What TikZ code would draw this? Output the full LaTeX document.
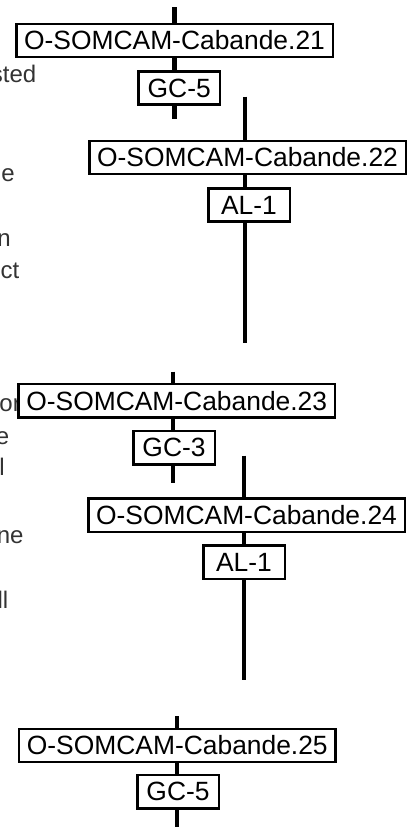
\documentclass[tikz,border=0pt]{standalone}
\usepackage{fontspec}
\setmainfont{Liberation Sans}
\definecolor{sidetext}{HTML}{333333}
\tikzset{
  track/.style={line width=4.2pt},
  segbox/.style={draw, line width=2.5pt, fill=white, inner sep=0pt,
    minimum width=316.5pt, minimum height=33.2pt,
    font=\fontsize{26.4}{30}\selectfont},
  codebox/.style={segbox, minimum width=81.5pt},
  margintext/.style={anchor=base east, inner sep=0pt, text=sidetext,
    font=\fontsize{24}{28}\selectfont},
}
\begin{document}
\begin{tikzpicture}[x=1pt, y=-1pt]
  \useasboundingbox (0,0) rectangle (415,827);
  % text cut off at the left edge
  \node[margintext] (m1) at (36.5,82.3) {sted};
  \node[margintext] (m2) at (15,181.7) {e};
  \node[margintext] (m3) at (11,246.7) {n};
  \node[margintext] (m4) at (19.5,278.3) {ct};
  \node[margintext] (m5) at (21,411.7) {or};
  \node[margintext] (m6) at (9.3,444.3) {e};
  \node[margintext] (m7) at (5,475.7) {l};
  \node[margintext] (m8) at (23.7,543.3) {ne};
  \node[margintext] (m9) at (8.5,608.3) {ll};
  % track pieces
  \coordinate (t1) at (174.5,7.3);  \coordinate (e1) at (174.5,119);
  \coordinate (t2) at (245,96.7);   \coordinate (e2) at (245,343);
  \coordinate (t3) at (172.7,371.7);\coordinate (e3) at (172.7,482.7);
  \coordinate (t4) at (244.2,455.7);\coordinate (e4) at (244.2,680);
  \coordinate (t5) at (176.7,716);  \coordinate (e5) at (176.7,830);
  \foreach \i in {1,...,5}
    \draw[track] (t\i) -- (e\i);
  % segment and code labels
  \node[segbox]  (s21) at (174.5,40.5)  {O-SOMCAM-Cabande.21};
  \node[codebox] (c21) at (179.2,88)    {GC-5};
  \node[segbox]  (s22) at (247.5,157.5) {O-SOMCAM-Cabande.22};
  \node[codebox] (c22) at (249,205)     {AL-1};
  \node[segbox]  (s23) at (176.7,400.7) {O-SOMCAM-Cabande.23};
  \node[codebox] (c23) at (174,447.8)   {GC-3};
  \node[segbox]  (s24) at (246.5,515.3) {O-SOMCAM-Cabande.24};
  \node[codebox] (c24) at (244,562.2)   {AL-1};
  \node[segbox]  (s25) at (177.3,745.5) {O-SOMCAM-Cabande.25};
  \node[codebox] (c25) at (178,791.8)   {GC-5};
\end{tikzpicture}
\end{document}
